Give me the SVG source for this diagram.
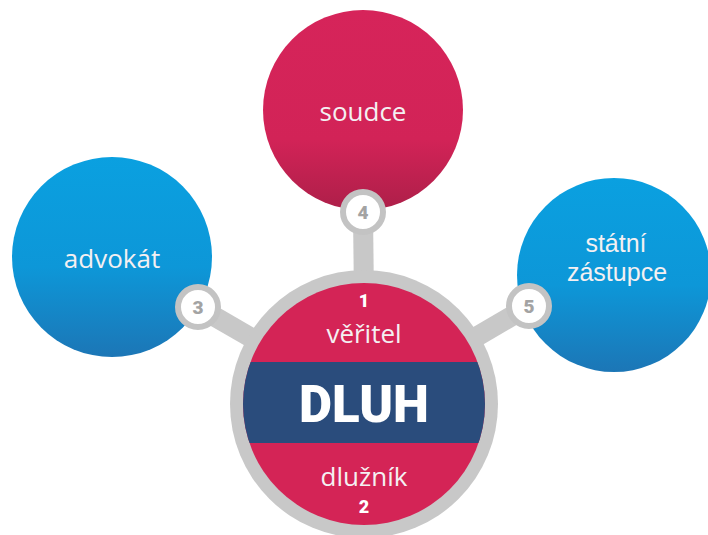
<svg xmlns="http://www.w3.org/2000/svg" width="708" height="535" viewBox="0 0 708 535">
<defs>
<style>
.lbl{font-family:"Open Sans","Liberation Sans",sans-serif;font-size:26px;fill:#f4f0f2;text-anchor:middle}
.lbl2{font-family:"Liberation Sans",Arial,sans-serif;font-size:25px;fill:#f4f0f2;text-anchor:middle}
.num{font-family:"Roboto","Liberation Sans",sans-serif;font-weight:900;font-size:18px;text-anchor:middle}
.badge{fill:#ffffff;stroke:#c3c3c3;stroke-width:6}
.bnum{fill:#a3a3a3;font-size:19px}
.bar{stroke:#c8c8c8;stroke-width:20;fill:none}
</style>
<linearGradient id="gBlue" x1="0" y1="0" x2="0" y2="1">
<stop offset="0" stop-color="#0aa0e0"/>
<stop offset="0.55" stop-color="#0d97d8"/>
<stop offset="1" stop-color="#1c76b6"/>
</linearGradient>
<linearGradient id="gRed" x1="0" y1="0" x2="0" y2="1">
<stop offset="0" stop-color="#d6245a"/>
<stop offset="0.65" stop-color="#d22357"/>
<stop offset="1" stop-color="#ad1f49"/>
</linearGradient>
<clipPath id="cpCenter"><circle cx="364" cy="404" r="121"/></clipPath>
</defs>
<rect width="708" height="535" fill="#ffffff"/>

<g id="connectors">
<line class="bar" x1="363" y1="212" x2="364" y2="300"/>
<line class="bar" x1="198" y1="307" x2="300" y2="366"/>
<line class="bar" x1="529" y1="306" x2="430" y2="364"/>
</g>

<g id="node-soudce">
<circle cx="363" cy="110" r="100" fill="url(#gRed)"/>
<text class="lbl" x="363" y="121">soudce</text>
</g>

<g id="node-advokat">
<circle cx="112" cy="257" r="100" fill="url(#gBlue)"/>
<text class="lbl" x="112" y="268">advokát</text>
</g>

<g id="node-statni-zastupce">
<circle cx="614" cy="275" r="97" fill="url(#gBlue)"/>
<text class="lbl2" x="616" y="252">státní</text>
<text class="lbl2" x="617" y="281">zástupce</text>
</g>

<g id="node-dluh">
<circle cx="364" cy="404" r="134" fill="#c8c8c8"/>
<circle cx="364" cy="404" r="121" fill="#d42456"/>
<rect x="240" y="362" width="250" height="81" fill="#2a4c7c" clip-path="url(#cpCenter)"/>
<text class="num" x="364" y="307" fill="#ffffff">1</text>
<text class="lbl" x="364" y="343">věřitel</text>
<text x="364" y="422" text-anchor="middle" font-family="Roboto,'Liberation Sans',sans-serif" font-weight="900" font-size="51" fill="#ffffff">DLUH</text>
<text class="lbl" x="364" y="486">dlužník</text>
<text class="num" x="364" y="513" fill="#ffffff">2</text>
</g>

<g id="badge-4">
<circle class="badge" cx="363" cy="212" r="20"/>
<text class="num bnum" x="363" y="219">4</text>
</g>
<g id="badge-3">
<circle class="badge" cx="198" cy="307" r="20"/>
<text class="num bnum" x="198" y="314">3</text>
</g>
<g id="badge-5">
<circle class="badge" cx="529" cy="306" r="20"/>
<text class="num bnum" x="529" y="313">5</text>
</g>
</svg>
